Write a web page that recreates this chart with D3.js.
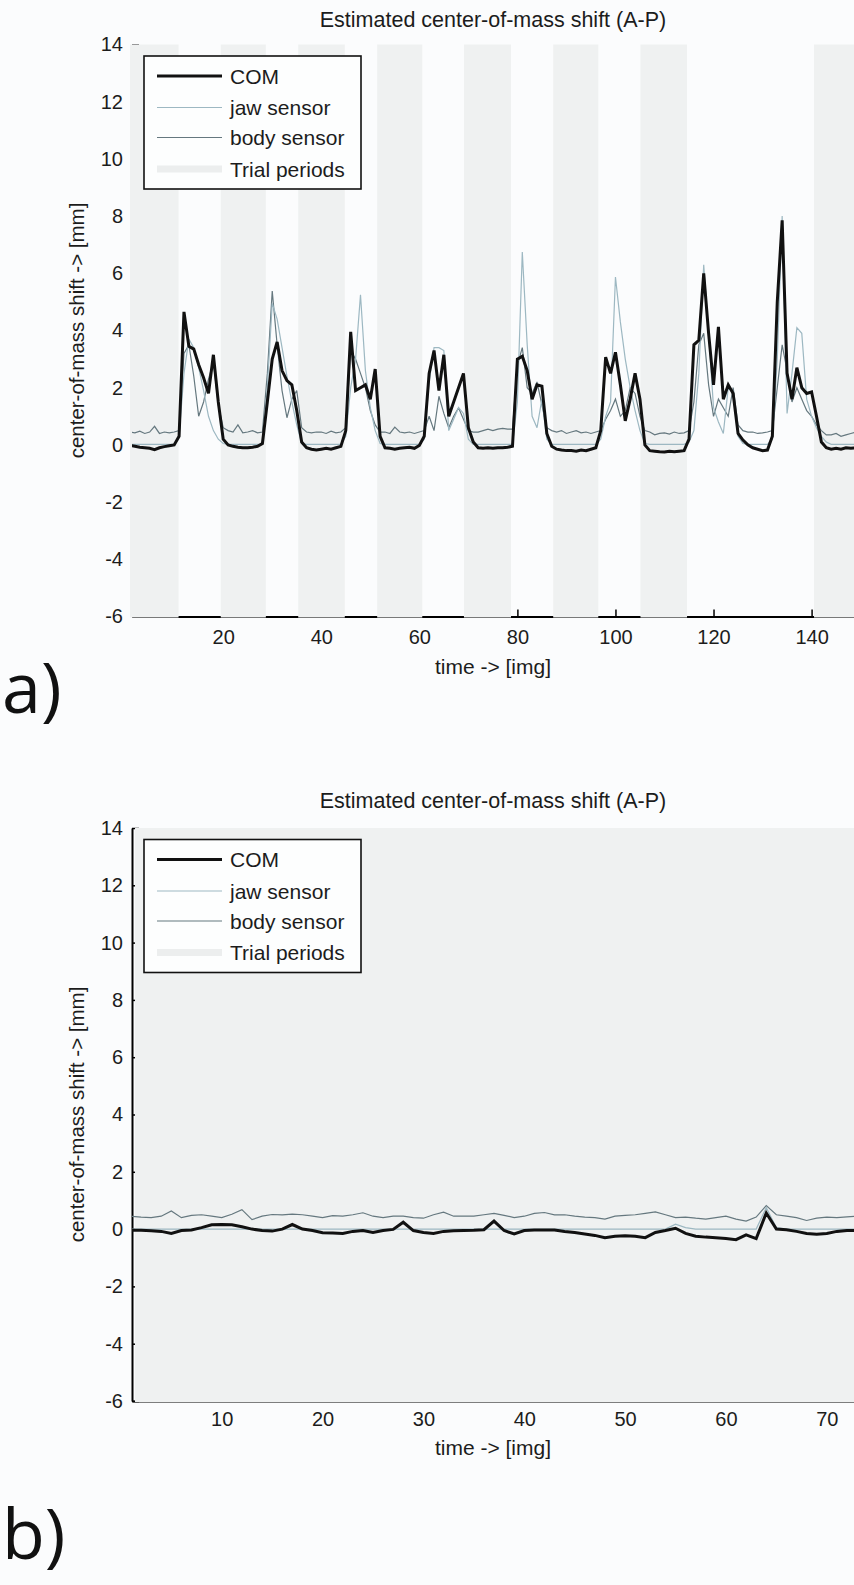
<!DOCTYPE html>
<html>
<head>
<meta charset="utf-8">
<script src="https://cdn.jsdelivr.net/npm/d3@7"></script>
<style>
  body { margin: 0; background: #fbfcfd; }
  svg { display: block; font-family: "Liberation Sans", Arial, sans-serif; }
</style>
</head>
<body>
<div id="chart"></div>
<script>
// ---- panel a) : one value per image, starting at img 1
const comA = [
  -0.02, -0.05, -0.08, -0.1, -0.12, -0.17, -0.1, -0.06, -0.03, 0.0,
  0.3, 4.65, 3.45, 3.35, 2.8, 2.35, 1.8, 3.15, 1.5, 0.2, 0.0,
  -0.05, -0.08, -0.1, -0.1, -0.08, -0.05, 0.05,
  1.5, 3.0, 3.6, 2.6, 2.25, 2.1, 1.2, 0.1,
  -0.1, -0.15, -0.18, -0.15, -0.12, -0.15, -0.1, -0.05,
  0.5, 3.95, 1.9, 2.0, 2.1, 1.6, 2.65, 0.3,
  -0.1, -0.12, -0.15, -0.12, -0.1, -0.08, -0.12, -0.02,
  0.3, 2.5, 3.3, 1.9, 3.15, 1.0, 1.5, 2.0, 2.5, 0.6, 0.1,
  -0.1, -0.12, -0.1, -0.12, -0.1, -0.1, -0.08, -0.05,
  3.0, 3.1, 2.6, 1.6, 2.1, 2.05, 0.4, -0.05,
  -0.15, -0.18, -0.2, -0.2, -0.22, -0.18, -0.2, -0.15, -0.1,
  0.5, 3.07, 2.5, 3.24, 2.1, 0.84, 1.6, 2.5, 1.6, 0.0,
  -0.2, -0.22, -0.24, -0.25, -0.22, -0.24, -0.22, -0.2, 0.2,
  3.5, 3.66, 6.0, 3.9, 2.1, 4.13, 1.6, 2.1, 1.8, 0.4, 0.17,
  0.0, -0.1, -0.15, -0.2, -0.18,
  0.3, 5.0, 7.85, 2.5, 1.6, 2.7, 2.0, 1.8, 1.85, 1.0, 0.1, -0.1,
  -0.15, -0.12, -0.15, -0.1, -0.12, -0.1
];
const jawA = [
  0.02, 0.02, 0.02, 0.02, 0.02, 0.02, 0.02, 0.02, 0.02, 0.02,
  0.3, 2.5, 3.7, 3.4, 2.7, 1.9, 1.0, 0.5, 0.2, 0.05, 0.02,
  0.02, 0.02, 0.02, 0.02, 0.02, 0.02, 0.02,
  2.0, 4.95, 4.4, 3.4, 2.4, 1.5, 0.7, 0.05,
  0.02, 0.02, 0.02, 0.02, 0.02, 0.02, 0.02, 0.02,
  0.3, 2.0, 3.0, 5.25, 2.6, 1.3, 0.5, 0.05,
  0.02, 0.02, 0.02, 0.02, 0.02, 0.02, 0.02, 0.02,
  0.2, 2.2, 3.4, 3.4, 3.3, 0.5, 0.9, 1.3, 1.1, 0.2, 0.02,
  0.02, 0.02, 0.02, 0.02, 0.02, 0.02, 0.02, 0.02,
  1.5, 6.74, 3.5, 1.0, 0.6, 1.6, 0.2, 0.02,
  0.02, 0.02, 0.02, 0.02, 0.02, 0.02, 0.02, 0.02, 0.02,
  0.2, 1.0, 1.5, 5.87, 4.3, 3.0, 2.0, 1.2, 0.5, 0.05,
  0.02, 0.02, 0.02, 0.02, 0.02, 0.02, 0.02, 0.02, 0.1,
  0.5, 2.5, 6.3, 3.9, 1.3, 0.8, 0.4, 2.0, 1.8, 0.3, 0.05,
  0.02, 0.02, 0.02, 0.02, 0.02,
  0.2, 3.0, 8.0, 1.1, 2.5, 4.1, 3.9, 1.6, 1.0, 0.6, 0.3, 0.1,
  0.02, 0.02, 0.02, 0.02, 0.02, 0.02
];
const bodyA = [
  0.45, 0.42, 0.48, 0.40, 0.45, 0.65, 0.40, 0.45, 0.42, 0.45,
  0.5, 3.2, 3.5, 2.4, 1.0, 1.5, 2.3, 2.9, 1.4, 0.6, 0.5,
  0.45, 0.70, 0.42, 0.45, 0.50, 0.42, 0.45,
  2.5, 5.38, 3.5, 1.9, 0.95, 1.6, 1.9, 0.6,
  0.45, 0.42, 0.45, 0.45, 0.40, 0.48, 0.42, 0.45,
  0.6, 3.3, 3.0, 2.5, 2.0, 1.2, 0.7, 0.45,
  0.45, 0.40, 0.62, 0.45, 0.42, 0.45, 0.40, 0.45,
  0.5, 1.0, 0.5, 1.7, 1.1, 0.6, 1.0, 1.3, 0.9, 0.5, 0.45,
  0.45, 0.5, 0.55, 0.5, 0.55, 0.58, 0.55, 0.55,
  2.8, 3.4, 2.0, 1.8, 2.2, 1.4, 0.6, 0.5,
  0.45, 0.5, 0.4, 0.45, 0.5, 0.42, 0.45, 0.40, 0.45,
  0.5, 0.9, 1.2, 1.6, 1.0, 1.2, 2.0, 1.8, 1.0, 0.5,
  0.45, 0.35, 0.4, 0.42, 0.38, 0.45, 0.40, 0.42, 0.5,
  1.5, 3.5, 3.9, 2.1, 1.0, 1.6, 1.3, 1.0, 2.0, 0.7, 0.5,
  0.45, 0.45, 0.4, 0.42, 0.45,
  0.5, 2.0, 3.5, 2.6, 1.5, 2.0, 1.6, 1.2, 1.0, 0.7, 0.5, 0.35,
  0.35, 0.4, 0.3, 0.35, 0.4, 0.45
];
const trialsA = [[1, 10.9], [19.5, 28.7], [35.3, 44.8], [51.4, 60.6],
                 [69.1, 78.7], [87.3, 96.5], [105.1, 114.6], [140.5, 150]];
const xTicksA = [20, 40, 60, 80, 100, 120, 140];

// ---- panel b)
const comB = [
  -0.04, -0.04, -0.06, -0.08, -0.15, -0.05, -0.03, 0.05, 0.15, 0.16,
  0.15, 0.08, 0.0, -0.05, -0.07, 0.0, 0.16, 0.0, -0.05, -0.13,
  -0.14, -0.15, -0.08, -0.05, -0.12, -0.05, -0.01, 0.24, -0.05, -0.12,
  -0.15, -0.08, -0.06, -0.05, -0.04, -0.02, 0.28, -0.05, -0.17, -0.05,
  -0.03, -0.03, -0.03, -0.08, -0.12, -0.17, -0.22, -0.3, -0.25, -0.23,
  -0.25, -0.3, -0.12, -0.05, 0.03, -0.15, -0.25, -0.28, -0.3, -0.33,
  -0.37, -0.2, -0.33, 0.56, 0.0, -0.02, -0.08, -0.15, -0.18, -0.15,
  -0.08, -0.05, -0.05
];
const jawB = [
  0.0, 0.0, 0.0, 0.0, 0.0, 0.0, 0.0, 0.0, 0.0, 0.0,
  0.0, 0.0, 0.0, 0.0, 0.0, 0.0, 0.0, 0.0, 0.0, 0.0,
  0.0, 0.0, 0.0, 0.0, 0.0, 0.0, 0.0, 0.0, 0.0, 0.0,
  0.0, 0.0, 0.0, 0.0, 0.0, 0.0, 0.0, 0.0, 0.0, 0.0,
  0.0, 0.0, 0.0, 0.0, 0.0, 0.0, 0.0, 0.0, 0.0, 0.0,
  0.0, 0.0, 0.0, 0.0, 0.17, 0.05, 0.0, 0.0, 0.0, 0.0,
  0.0, 0.0, 0.0, 0.75, 0.05, 0.0, 0.0, 0.0, 0.0, 0.0,
  0.0, 0.0, 0.0
];
const bodyB = [
  0.45, 0.42, 0.40, 0.45, 0.63, 0.40, 0.48, 0.50, 0.45, 0.40,
  0.52, 0.68, 0.33, 0.45, 0.51, 0.50, 0.52, 0.50, 0.45, 0.40,
  0.47, 0.45, 0.50, 0.57, 0.45, 0.40, 0.45, 0.45, 0.40, 0.38,
  0.50, 0.59, 0.45, 0.45, 0.45, 0.50, 0.55, 0.48, 0.40, 0.45,
  0.55, 0.58, 0.50, 0.50, 0.45, 0.42, 0.40, 0.35, 0.45, 0.48,
  0.50, 0.55, 0.60, 0.50, 0.40, 0.42, 0.38, 0.35, 0.40, 0.45,
  0.35, 0.28, 0.42, 0.82, 0.50, 0.45, 0.40, 0.30, 0.38, 0.42,
  0.40, 0.43, 0.45
];
const trialsB = [[1.4, 75]];
const xTicksB = [10, 20, 30, 40, 50, 60, 70];

const yTicks = [-6, -4, -2, 0, 2, 4, 6, 8, 10, 12, 14];
const seriesNames = ["COM", "jaw sensor", "body sensor"];
const trialName = "Trial periods";
const titleText = "Estimated center-of-mass shift (A-P)";
const xLabel = "time -> [img]";
const yLabel = "center-of-mass shift -> [mm]";

const W = 854, H = 1585;
const left = 132, right = 854;
const colors = {COM: "#111111", jaw: "#9db8c2", body: "#65787f", trial: "#eff1f1", text: "#1c1c1c"};
const lineWidths = [3, 1.2, 1.2];

const svg = d3.select("#chart").append("svg")
    .attr("width", W)
    .attr("height", H);

svg.append("rect").attr("width", W).attr("height", H).attr("fill", "#fbfcfd");

function drawPanel(cfg) {
    const g = svg.append("g");
    const x = d3.scaleLinear().domain(cfg.xDomain).range([left, right]);
    const y = d3.scaleLinear().domain([-6, 14]).range([cfg.bottom, cfg.top]);

    // axes first, trial patches are painted over them like in the original
    const xAxis = g.append("g")
        .attr("transform", "translate(0," + cfg.bottom + ")")
        .call(d3.axisBottom(x).tickValues(cfg.xTicks).tickFormat(d => String(d))
            .tickSizeInner(-7).tickSizeOuter(0).tickPadding(cfg.xPad));
    const yAxis = g.append("g")
        .attr("transform", "translate(" + left + ",0)")
        .call(d3.axisLeft(y).tickValues(yTicks).tickFormat(d => String(d))
            .tickSizeInner(-7).tickSizeOuter(0).tickPadding(9));

    [xAxis, yAxis].forEach(a => {
        a.select(".domain").attr("stroke", "#000").attr("stroke-width", 2);
        a.selectAll(".tick line").attr("stroke", "#000").attr("stroke-width", 1.5);
        a.selectAll("text").attr("fill", colors.text).style("font-size", "20px")
            .style("font-family", '"Liberation Sans", Arial, sans-serif');
    });

    // trial periods
    g.append("g").selectAll("rect")
        .data(cfg.trials)
        .join("rect")
        .attr("x", d => Math.max(x(d[0]), left - 2))
        .attr("y", cfg.top)
        .attr("width", d => Math.min(x(d[1]), right) - Math.max(x(d[0]), left - 2))
        .attr("height", cfg.bottom - cfg.top + 1)
        .attr("fill", colors.trial);

    const clipId = "clip" + cfg.id;
    svg.append("clipPath").attr("id", clipId)
        .append("rect").attr("x", left).attr("y", cfg.top - 10)
        .attr("width", right - left).attr("height", cfg.bottom - cfg.top + 20);

    const line = d3.line()
        .x((d, i) => x(i + 1))
        .y(d => y(d));

    const series = [
        {vals: cfg.body, color: colors.body, w: lineWidths[2]},
        {vals: cfg.jaw, color: colors.jaw, w: lineWidths[1]},
        {vals: cfg.com, color: colors.COM, w: lineWidths[0]}
    ];
    g.append("g").attr("clip-path", "url(#" + clipId + ")")
        .selectAll("path")
        .data(series)
        .join("path")
        .attr("d", d => line(d.vals))
        .attr("fill", "none")
        .attr("stroke", d => d.color)
        .attr("stroke-width", d => d.w)
        .attr("stroke-linejoin", "miter")
        .attr("stroke-miterlimit", 3);

    // legend
    const lg = g.append("g").attr("transform", "translate(144," + (cfg.top + 11.5) + ")");
    lg.append("rect").attr("width", 217).attr("height", 133)
        .attr("fill", "#fdfefe").attr("stroke", "#111").attr("stroke-width", 1.6);
    const rows = [
        {name: seriesNames[0], color: colors.COM, w: 3},
        {name: seriesNames[1], color: colors.jaw, w: 1.2},
        {name: seriesNames[2], color: colors.body, w: 1.2},
        {name: trialName, color: "#eceeee", w: 7}
    ];
    const rowY = [20, 51.5, 81.5, 113];
    const item = lg.selectAll("g.item").data(rows).join("g")
        .attr("transform", (d, i) => "translate(0," + rowY[i] + ")");
    item.append("line").attr("x1", 13).attr("x2", 78)
        .attr("stroke", d => d.color).attr("stroke-width", d => d.w);
    item.append("text").attr("x", 86).attr("dy", "0.36em")
        .attr("fill", colors.text).style("font-size", "21px")
        .text(d => d.name);

    // labels
    g.append("text").attr("x", (left + right) / 2).attr("y", cfg.titleY)
        .attr("text-anchor", "middle").attr("fill", colors.text)
        .style("font-size", "21.5px").text(titleText);
    g.append("text").attr("x", (left + right) / 2).attr("y", cfg.xLabelY)
        .attr("text-anchor", "middle").attr("fill", colors.text)
        .style("font-size", "21px").text(xLabel);
    g.append("text")
        .attr("transform", "translate(84," + ((cfg.top + cfg.bottom) / 2) + ") rotate(-90)")
        .attr("text-anchor", "middle").attr("fill", colors.text)
        .style("font-size", "20.5px").text(yLabel);

    svg.append("text").attr("x", 2).attr("y", cfg.tagY)
        .attr("fill", "#111").style("font-family", '"Open Sans", "DejaVu Sans", sans-serif')
        .style("font-size", "70px").text(cfg.tag);
}

drawPanel({
    id: "a", com: comA, jaw: jawA, body: bodyA, trials: trialsA,
    xDomain: [1.4, 148.65], xTicks: xTicksA, xPad: 13,
    top: 44.5, bottom: 616.5, titleY: 27, xLabelY: 674, tagY: 713, tag: "a)"
});

drawPanel({
    id: "b", com: comB, jaw: jawB, body: bodyB, trials: trialsB,
    xDomain: [1.1, 72.7], xTicks: xTicksB, xPad: 11,
    top: 828, bottom: 1401, titleY: 808, xLabelY: 1455, tagY: 1559, tag: "b)"
});
</script>
</body>
</html>
